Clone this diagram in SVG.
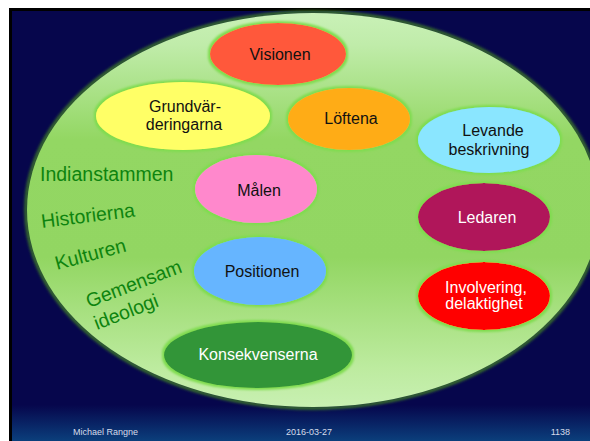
<svg xmlns="http://www.w3.org/2000/svg" width="590" height="441" viewBox="0 0 590 441">
  <defs>
    <linearGradient id="footer" x1="0" y1="0" x2="0" y2="1">
      <stop offset="0" stop-color="#06064c"/>
      <stop offset="1" stop-color="#0b3f7c"/>
    </linearGradient>
    <linearGradient id="field" x1="0" y1="0" x2="0" y2="1">
      <stop offset="0" stop-color="#c9f1b7"/>
      <stop offset="0.08" stop-color="#c0ecaa"/>
      <stop offset="0.32" stop-color="#93d763"/>
      <stop offset="0.62" stop-color="#92d662"/>
      <stop offset="0.9" stop-color="#bdeb9f"/>
      <stop offset="1" stop-color="#c8f0b2"/>
    </linearGradient>
    <filter id="rim" x="-5%" y="-5%" width="110%" height="110%">
      <feGaussianBlur stdDeviation="1.4"/>
    </filter>
    <filter id="glow" x="-15%" y="-20%" width="130%" height="140%">
      <feMorphology in="SourceAlpha" operator="dilate" radius="1.5" result="d"/>
      <feGaussianBlur in="d" stdDeviation="1.3" result="b"/>
      <feFlood flood-color="#7fdc4f"/>
      <feComposite in2="b" operator="in" result="g"/>
      <feMerge>
        <feMergeNode in="g"/>
        <feMergeNode in="SourceGraphic"/>
      </feMerge>
    </filter>
    <style>
      .node ellipse { filter: url(#glow); }
      .lbl { font-family: "Comic Sans MS", "Liberation Sans", "DejaVu Sans", sans-serif; font-size: 16px; text-anchor: middle; fill: #111; }
      .light { fill: #ffffff; }
      .side { font-family: "Comic Sans MS", "Liberation Sans", "DejaVu Sans", sans-serif; font-size: 19.5px; fill: #0e840f; }
      .foot { font-family: "Comic Sans MS", "Liberation Sans", "DejaVu Sans", sans-serif; font-size: 9px; fill: #d6dcea; }
    </style>
  </defs>

  <!-- page frame -->
  <rect x="0" y="0" width="590" height="441" fill="#ffffff"/>
  <rect x="9" y="8" width="581" height="433" fill="#000000"/>
  <rect x="12" y="11" width="578" height="430" fill="#06064c"/>
  <rect x="12" y="405" width="578" height="36" fill="url(#footer)"/>

  <!-- large field -->
  <g id="field-ellipse">
    <ellipse cx="313" cy="210" rx="287" ry="198" fill="none" stroke="#3f7f26" stroke-width="3" filter="url(#rim)"/>
    <ellipse cx="313" cy="210" rx="286" ry="197" fill="url(#field)"/>
  </g>

  <!-- side labels -->
  <g id="side-labels">
    <text class="side" x="40" y="181">Indianstammen</text>
    <text class="side" x="42" y="228" transform="rotate(-7 42 228)">Historierna</text>
    <text class="side" x="57" y="270" transform="rotate(-15 57 270)">Kulturen</text>
    <text class="side" x="89" y="308" transform="rotate(-21 89 308)">Gemensam</text>
    <text class="side" x="97" y="330" transform="rotate(-21 97 330)">ideologi</text>
  </g>

  <g id="connectors"/>

  <g id="visionen" class="node">
    <ellipse cx="278" cy="54" rx="68" ry="31" fill="#ff583b"/>
    <text class="lbl" x="280" y="60">Visionen</text>
  </g>
  <g id="grundvarderingarna" class="node">
    <ellipse cx="183" cy="116" rx="87" ry="34" fill="#ffff66"/>
    <text class="lbl" x="185" y="112">Grundvär-</text>
    <text class="lbl" x="184" y="130">deringarna</text>
  </g>
  <g id="loftena" class="node">
    <ellipse cx="349" cy="119" rx="61" ry="31" fill="#ffac18"/>
    <text class="lbl" x="351" y="124">Löftena</text>
  </g>
  <g id="levande-beskrivning" class="node">
    <ellipse cx="489" cy="140" rx="71" ry="33" fill="#8ae6ff"/>
    <text class="lbl" x="493" y="136">Levande</text>
    <text class="lbl" x="489" y="155">beskrivning</text>
  </g>
  <g id="malen" class="node">
    <ellipse cx="256" cy="189" rx="61" ry="34" fill="#ff88cc"/>
    <text class="lbl" x="259" y="196">Målen</text>
  </g>
  <g id="ledaren" class="node">
    <ellipse cx="484" cy="217" rx="66" ry="34" fill="#b0135a"/>
    <text class="lbl light" x="487" y="223">Ledaren</text>
  </g>
  <g id="positionen" class="node">
    <ellipse cx="260" cy="271" rx="66" ry="34" fill="#66b5ff"/>
    <text class="lbl" x="262" y="277">Positionen</text>
  </g>
  <g id="involvering" class="node">
    <ellipse cx="484" cy="296" rx="66" ry="34" fill="#ff0000"/>
    <text class="lbl light" x="486" y="293">Involvering,</text>
    <text class="lbl light" x="484" y="309">delaktighet</text>
  </g>
  <g id="konsekvenserna" class="node">
    <ellipse cx="258" cy="355" rx="94" ry="33" fill="#339539"/>
    <text class="lbl light" x="258" y="360">Konsekvenserna</text>
  </g>

  <!-- footer -->
  <g id="footer-text">
    <text class="foot" x="73" y="435">Michael Rangne</text>
    <text class="foot" x="309" y="435" text-anchor="middle">2016-03-27</text>
    <text class="foot" x="570" y="435" text-anchor="end">1138</text>
  </g>
</svg>
